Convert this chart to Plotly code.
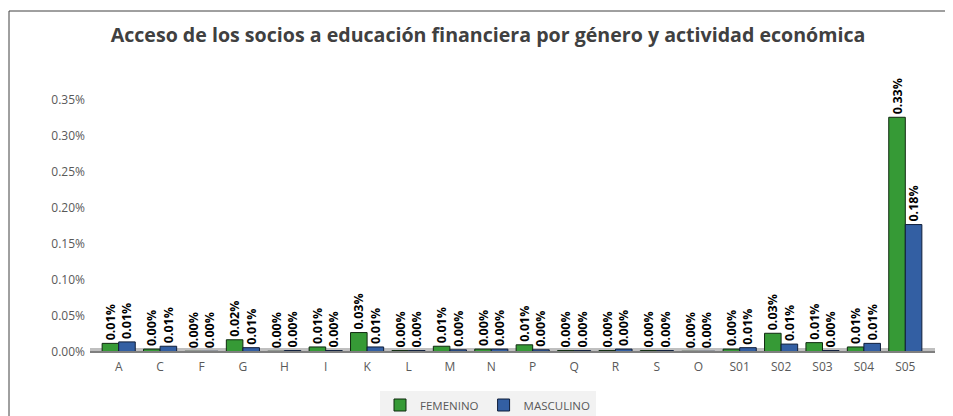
import plotly.graph_objects as go

categories = ["A", "C", "F", "G", "H", "I", "K", "L", "M", "N", "P", "Q", "R", "S", "O",
              "S01", "S02", "S03", "S04", "S05"]
# values in percent
femenino_pct = [0.012, 0.004, 0.001, 0.017, 0.001, 0.007, 0.027, 0.002, 0.008, 0.004,
                0.010, 0.002, 0.002, 0.002, 0.001, 0.004, 0.026, 0.013, 0.007, 0.326]
masculino_pct = [0.014, 0.008, 0.001, 0.006, 0.002, 0.002, 0.007, 0.002, 0.003, 0.004,
                 0.003, 0.002, 0.004, 0.002, 0.001, 0.006, 0.011, 0.002, 0.012, 0.177]
y_ticks_pct = [0.00, 0.05, 0.10, 0.15, 0.20, 0.25, 0.30, 0.35]

fem = [v / 100 for v in femenino_pct]
mas = [v / 100 for v in masculino_pct]
ticks = [v / 100 for v in y_ticks_pct]

label_font = dict(family="Open Sans", size=12.5, color="#000000")

fig = go.Figure()
fig.add_trace(go.Bar(
    name="FEMENINO", x=categories, y=fem,
    marker=dict(color="#369a36", line=dict(color="#0f2a0f", width=1)),
    texttemplate="<b>%{y:.2%}</b>", textposition="outside", textangle=-90,
    textfont=label_font, cliponaxis=False,
))
fig.add_trace(go.Bar(
    name="MASCULINO", x=categories, y=mas,
    marker=dict(color="#335fa3", line=dict(color="#0f1e3a", width=1)),
    texttemplate="<b>%{y:.2%}</b>", textposition="outside", textangle=-90,
    textfont=label_font, cliponaxis=False,
))

# page body has an 8px margin; positions below are in reference pixels minus 8
OFF = 8
W, H = 953 - OFF, 416 - OFF
L, R, T, B = 98 - OFF, 953 - 926, 100 - OFF, 416 - 352
pw = W - L - R
ph = H - T - B

def px_x(p):
    return (p - OFF - L) / pw

def px_y(p):
    return (H - B - (p - OFF)) / ph

fig.update_layout(
    width=W, height=H,
    margin=dict(l=L, r=R, t=T, b=B, autoexpand=False),
    paper_bgcolor="white", plot_bgcolor="white",
    barmode="group", bargap=0.2, bargroupgap=0.0,
    uniformtext=dict(minsize=8, mode="show"),
    title=dict(
        text="<b>Acceso de los socios a educación financiera por género y actividad económica</b>",
        x=(488 - OFF) / W, xref="container", xanchor="center",
        y=1 - (35 - OFF) / H, yref="container", yanchor="middle",
        font=dict(family="Open Sans", size=19.6, color="#404040"),
    ),
    xaxis=dict(
        showgrid=False, showline=False, ticks="", ticklabelstandoff=6,
        tickfont=dict(family="Open Sans", size=12, color="#595959"),
    ),
    yaxis=dict(
        range=[0, 0.0035], tickvals=ticks, tickformat=".2%",
        showgrid=False, zeroline=False, showline=False, ticks="", ticklabelstandoff=12,
        tickfont=dict(family="Open Sans", size=12, color="#595959"),
    ),
    legend=dict(
        orientation="h", xref="container", yref="container",
        x=(488 - OFF) / W, xanchor="center", y=1 - (405 - OFF) / H, yanchor="middle",
        font=dict(family="Open Sans", size=11.5, color="#595959"),
        bgcolor="#f2f2f2", traceorder="normal",
    ),
    font=dict(family="Open Sans"),
    shapes=[
        dict(type="rect", xref="paper", yref="paper",
             x0=px_x(90), x1=px_x(935), y0=px_y(353), y1=px_y(348),
             fillcolor="#bfbfbf", line=dict(width=0), layer="below"),
        dict(type="line", xref="paper", yref="paper",
             x0=px_x(90), x1=px_x(935), y0=px_y(352), y1=px_y(352),
             line=dict(color="#7f7f7f", width=2)),
        dict(type="line", xref="paper", yref="paper",
             x0=px_x(9), x1=px_x(953), y0=px_y(11), y1=px_y(11),
             line=dict(color="#404040", width=1)),
        dict(type="line", xref="paper", yref="paper",
             x0=px_x(9), x1=px_x(9), y0=px_y(11), y1=px_y(416),
             line=dict(color="#404040", width=1)),
    ],
)

fig.write_html("out.html")
